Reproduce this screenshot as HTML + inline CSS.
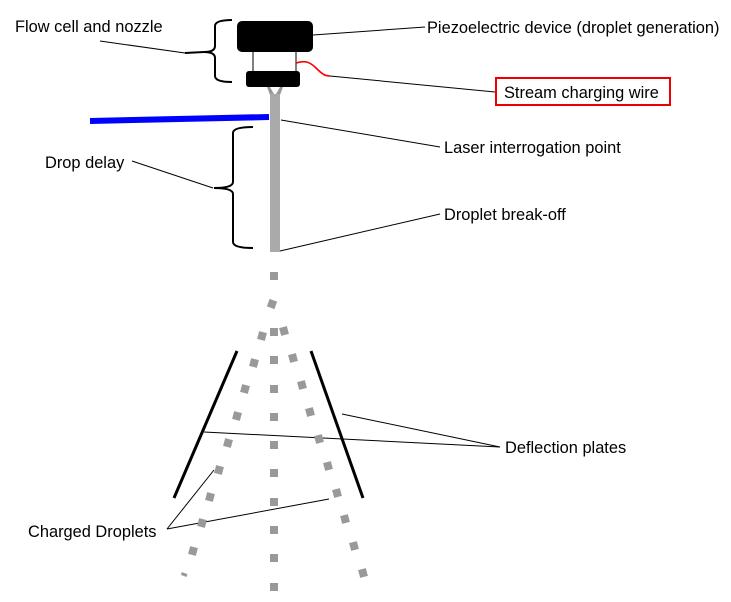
<!DOCTYPE html>
<html><head><style>
html,body{margin:0;padding:0;background:#fff;}
svg{display:block;}
text{font-family:"Liberation Sans",Arial,sans-serif;font-size:16.4px;fill:#000;}
</style></head><body>
<svg width="731" height="602" viewBox="0 0 731 602" xmlns="http://www.w3.org/2000/svg">
<rect x="237" y="21" width="76" height="31" rx="5" fill="#000"/>
<line x1="253" y1="52" x2="253" y2="71" stroke="#000" stroke-width="1"/>
<line x1="296" y1="52" x2="296" y2="71" stroke="#000" stroke-width="1"/>
<rect x="246" y="71" width="54" height="16" rx="3" fill="#000"/>
<path d="M267 87 L283 87 L280 95 L280 100 L270 100 L270 95 Z" fill="#999"/>
<path d="M270 87 L274 94 L276 94 L280 87 Z" fill="#fff"/>
<rect x="270" y="94" width="10" height="158" fill="#aaa"/>
<path d="M296 63 C305 60 310 62 316 68 C322 74 325 76 330 76" fill="none" stroke="#f00" stroke-width="1.6"/>
<line x1="330" y1="76" x2="495" y2="92" stroke="#000" stroke-width="1"/>
<line x1="90" y1="121" x2="269" y2="117" stroke="#0000ff" stroke-width="6"/>
<path d="M232 20 Q215 20 215 26 L215 46 Q215 52 204 52 Q215 52 215 58 L215 76 Q215 82 232 82" fill="none" stroke="#000" stroke-width="2"/>
<line x1="100" y1="41" x2="185" y2="53" stroke="#000" stroke-width="1"/>
<line x1="185" y1="53" x2="204" y2="52" stroke="#000" stroke-width="2"/>
<path d="M253 127 Q233 127 233 133 L233 182 Q233 188 214 188 Q233 188 233 194 L233 242 Q233 248 253 248" fill="none" stroke="#000" stroke-width="2"/>
<line x1="132" y1="161" x2="213" y2="188" stroke="#000" stroke-width="1"/>
<line x1="313" y1="35" x2="425" y2="27" stroke="#000" stroke-width="1"/>
<line x1="281" y1="120" x2="440" y2="147" stroke="#000" stroke-width="1"/>
<line x1="280" y1="251" x2="440" y2="214" stroke="#000" stroke-width="1"/>
<text x="15" y="32">Flow cell and nozzle</text>
<text x="427" y="33">Piezoelectric device (droplet generation)</text>
<rect x="496" y="78" width="174" height="27" fill="none" stroke="#e00" stroke-width="2"/>
<text x="504" y="98">Stream charging wire</text>
<text x="444" y="153">Laser interrogation point</text>
<text x="45" y="168">Drop delay</text>
<text x="444" y="220">Droplet break-off</text>
<text x="505" y="453">Deflection plates</text>
<text x="28" y="537">Charged Droplets</text>
<line x1="237" y1="351" x2="174" y2="498" stroke="#000" stroke-width="3"/>
<line x1="311" y1="351" x2="363" y2="498" stroke="#000" stroke-width="3"/>
<line x1="204" y1="432" x2="500" y2="447" stroke="#000" stroke-width="1"/>
<line x1="342" y1="414" x2="500" y2="447" stroke="#000" stroke-width="1"/>
<line x1="167" y1="529" x2="214" y2="470" stroke="#000" stroke-width="1"/>
<line x1="167" y1="529" x2="329" y2="499" stroke="#000" stroke-width="1"/>
<g fill="#999">
<rect x="270" y="272" width="8" height="8"/>
<rect x="268" y="300" width="8" height="8" transform="rotate(20 272 304)"/>
<rect x="270" y="328" width="8" height="8"/>
<rect x="270" y="356" width="8" height="8"/>
<rect x="270" y="385" width="8" height="8"/>
<rect x="270" y="413" width="8" height="8"/>
<rect x="270" y="441" width="8" height="8"/>
<rect x="270" y="469" width="8" height="8"/>
<rect x="270" y="498" width="8" height="8"/>
<rect x="270" y="526" width="8" height="8"/>
<rect x="270" y="554" width="8" height="8"/>
<rect x="270" y="583" width="8" height="8"/>
<rect x="258" y="332" width="8" height="8" transform="rotate(15 262 336)"/>
<rect x="250" y="359" width="8" height="8" transform="rotate(15 254 363)"/>
<rect x="241" y="385" width="8" height="8" transform="rotate(15 245 389)"/>
<rect x="233" y="412" width="8" height="8" transform="rotate(15 237 416)"/>
<rect x="224" y="439" width="8" height="8" transform="rotate(15 228 443)"/>
<rect x="215" y="466" width="8" height="8" transform="rotate(15 219 470)"/>
<rect x="206" y="493" width="8" height="8" transform="rotate(15 210 497)"/>
<rect x="198" y="519" width="8" height="8" transform="rotate(15 202 523)"/>
<rect x="189" y="547" width="8" height="8" transform="rotate(15 193 551)"/>
<rect x="181" y="573" width="6" height="3" transform="rotate(20 184 575)"/>
<rect x="280" y="327" width="8" height="8" transform="rotate(-15 284 331)"/>
<rect x="289" y="354" width="8" height="8" transform="rotate(-15 293 358)"/>
<rect x="298" y="381" width="8" height="8" transform="rotate(-15 302 385)"/>
<rect x="306" y="408" width="8" height="8" transform="rotate(-15 310 412)"/>
<rect x="315" y="435" width="8" height="8" transform="rotate(-15 319 439)"/>
<rect x="324" y="462" width="8" height="8" transform="rotate(-15 328 466)"/>
<rect x="333" y="489" width="8" height="8" transform="rotate(-15 337 493)"/>
<rect x="341" y="515" width="8" height="8" transform="rotate(-15 345 519)"/>
<rect x="350" y="542" width="8" height="8" transform="rotate(-15 354 546)"/>
<rect x="359" y="569" width="8" height="8" transform="rotate(-15 363 573)"/>
</g>
</svg>
</body></html>
